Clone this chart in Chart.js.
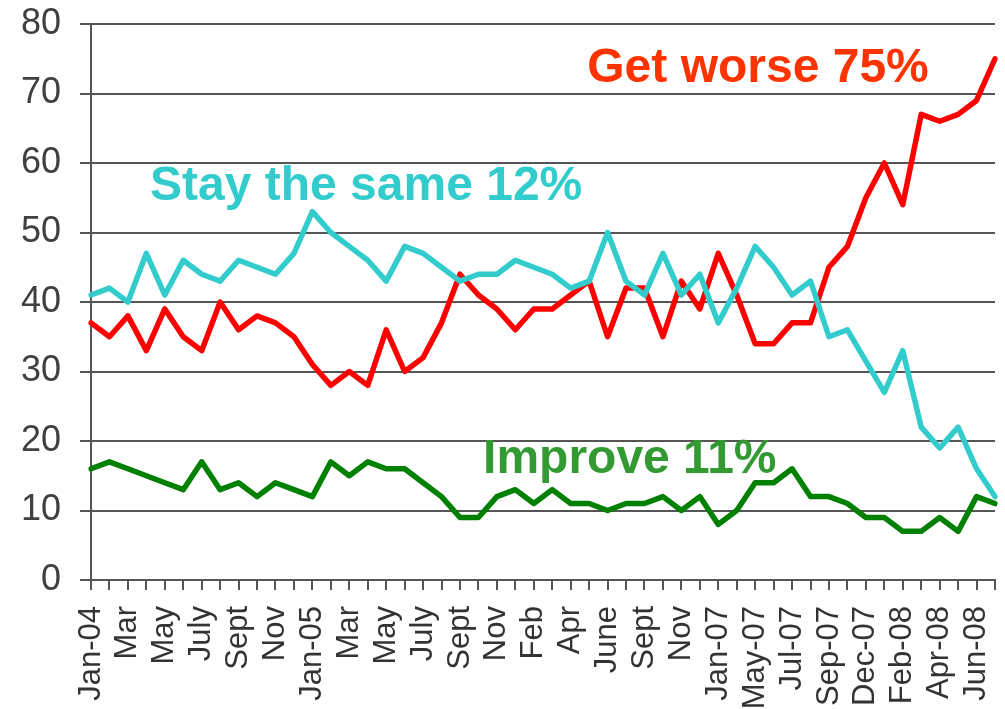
<!DOCTYPE html>
<html>
<head>
<meta charset="utf-8">
<script src="https://cdn.jsdelivr.net/npm/chart.js@4"></script>
<style>
  html, body { margin: 0; padding: 0; background: #ffffff; }
  #wrap { width: 1005px; height: 709px; position: relative; }
</style>
</head>
<body>
<div id="wrap"><canvas id="c" width="1005" height="709"></canvas></div>
<script>
// Tick labels (shown on every other category)
const tickLabels = ["Jan-04","Mar","May","July","Sept","Nov","Jan-05","Mar","May","July","Sept","Nov","Feb","Apr","June","Sept","Nov","Jan-07","May-07","Jul-07","Sep-07","Dec-07","Feb-08","Apr-08","Jun-08"];

// Series values (50 survey points)
const getWorse = [37,35,38,33,39,35,33,40,36,38,37,35,31,28,30,28,36,30,32,37,44,41,39,36,39,39,41,43,35,42,42,35,43,39,47,41,34,34,37,37,45,48,55,60,54,67,66,67,69,75];
const staySame = [41,42,40,47,41,46,44,43,46,45,44,47,53,50,48,46,43,48,47,45,43,44,44,46,45,44,42,43,50,43,41,47,41,44,37,42,48,45,41,43,35,36,31.5,27,33,22,19,22,16,12];
const improve  = [16,17,16,15,14,13,17,13,14,12,14,13,12,17,15,17,16,16,14,12,9,9,12,13,11,13,11,11,10,11,11,12,10,12,8,10,14,14,16,12,12,11,9,9,7,7,9,7,12,11];

const seriesNames = ["Get worse 75%", "Stay the same 12%", "Improve 11%"];

// Categories: one per survey point, labelled every other point
const categories = getWorse.map((_, i) => (i % 2 === 0 ? tickLabels[i / 2] : ""));

// Annotation placement (in data coordinates: category index, value at text baseline)
const annotations = [
  { text: seriesNames[0], x: 26.9, y: 71.7, color: "#FF3300" },
  { text: seriesNames[1], x: 3.2,  y: 54.7, color: "#33CCCC" },
  { text: seriesNames[2], x: 21.25, y: 15.4, color: "#339933" }
];

const labelPlugin = {
  id: "seriesLabels",
  afterDraw(chart) {
    const ctx = chart.ctx;
    const xs = chart.scales.x, ys = chart.scales.y;
    ctx.save();
    ctx.font = "bold 48px 'Liberation Sans', Arial, sans-serif";
    ctx.textAlign = "left";
    ctx.textBaseline = "alphabetic";
    annotations.forEach(a => {
      ctx.fillStyle = a.color;
      ctx.fillText(a.text, xs.getPixelForValue(a.x), ys.getPixelForValue(a.y));
    });
    ctx.restore();
  }
};

const lineStyle = { borderWidth: 5.5, pointRadius: 0, pointHoverRadius: 0, tension: 0, borderJoinStyle: "round", borderCapStyle: "round", fill: false };

new Chart(document.getElementById("c"), {
  type: "line",
  data: {
    labels: categories,
    datasets: [
      Object.assign({ label: seriesNames[2], data: improve,  borderColor: "#008000" }, lineStyle),
      Object.assign({ label: seriesNames[1], data: staySame, borderColor: "#33CCCC" }, lineStyle),
      Object.assign({ label: seriesNames[0], data: getWorse, borderColor: "#FF0000" }, lineStyle)
    ]
  },
  options: {
    responsive: false,
    animation: false,
    events: [],
    layout: { padding: { top: 24, right: 10, left: 0, bottom: 0 } },
    plugins: { legend: { display: false }, tooltip: { enabled: false }, title: { display: false } },
    scales: {
      x: {
        type: "category",
        offset: false,
        afterFit(scale) { scale.height = 129; scale.paddingLeft = 0; scale.paddingRight = 0; },
        grid: { drawOnChartArea: false, drawTicks: true, tickLength: 10, color: "#555555", lineWidth: 2 },
        border: { display: true, color: "#555555", width: 2 },
        ticks: {
          autoSkip: false, maxRotation: 90, minRotation: 90, padding: 16,
          color: "#333333",
          font: { family: "'Liberation Sans', Arial, sans-serif", size: 31 }
        }
      },
      y: {
        min: 0, max: 80,
        afterFit(scale) { scale.width = 91; scale.paddingTop = 0; scale.paddingBottom = 0; },
        grid: { drawOnChartArea: true, drawTicks: true, tickLength: 11, color: "#555555", lineWidth: 2 },
        border: { display: true, color: "#555555", width: 2 },
        ticks: {
          stepSize: 10, padding: 19,
          color: "#404040",
          font: { family: "'Liberation Sans', Arial, sans-serif", size: 36 }
        }
      }
    }
  },
  plugins: [labelPlugin]
});
</script>
</body>
</html>
